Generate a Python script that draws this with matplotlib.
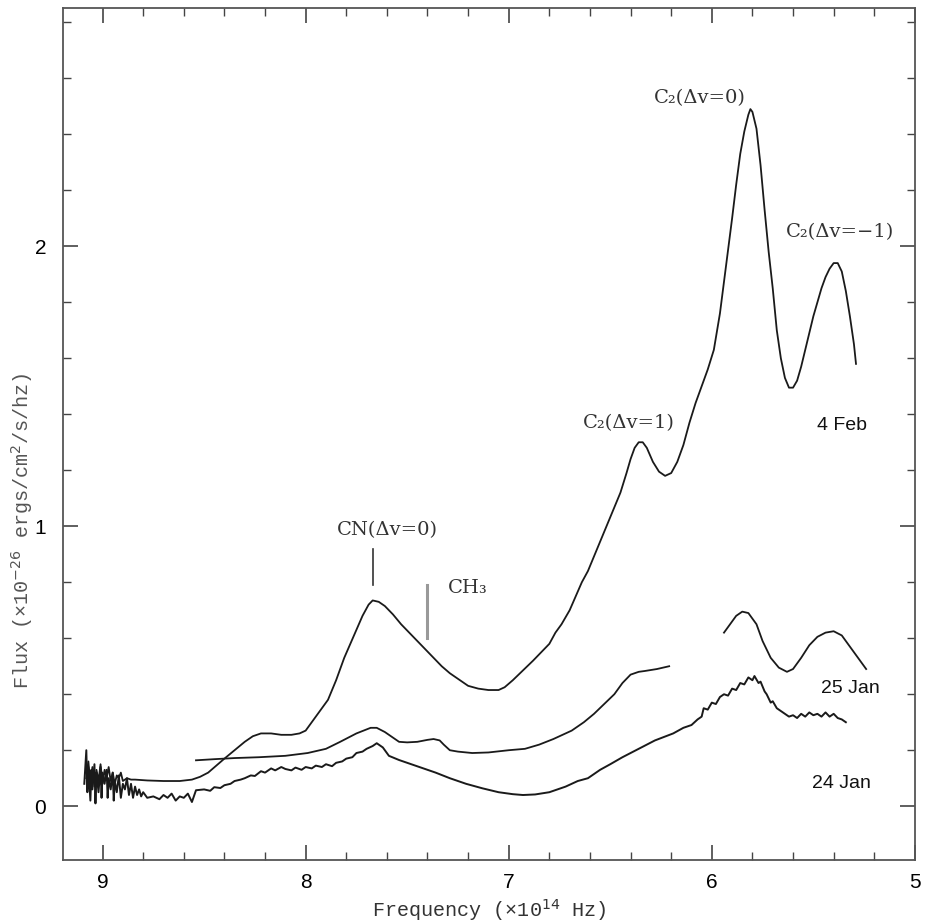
import matplotlib.pyplot as plt
from matplotlib.ticker import MultipleLocator

# 4 Feb spectrum (frequency in 1e14 Hz, flux)
feb4_freq = [9.08, 9.07, 9.06, 9.05, 9.04, 9.03, 9.02, 9.01, 9.00, 8.99, 8.98, 8.97,
             8.96, 8.95, 8.94, 8.93, 8.92, 8.91, 8.90, 8.88, 8.86, 8.84, 8.78, 8.70,
             8.62, 8.56, 8.52, 8.48, 8.44, 8.40, 8.35, 8.30, 8.26, 8.22, 8.17, 8.12,
             8.07, 8.03, 8.00, 7.96, 7.93, 7.89, 7.85, 7.81, 7.78, 7.75, 7.72, 7.69,
             7.67, 7.64, 7.61, 7.57, 7.53, 7.49, 7.45, 7.41, 7.37, 7.33, 7.29, 7.25,
             7.20, 7.15, 7.10, 7.05, 7.02, 6.98, 6.93, 6.88, 6.84, 6.80, 6.77, 6.74,
             6.70, 6.67, 6.64, 6.61, 6.57, 6.53, 6.49, 6.45, 6.42, 6.40, 6.38, 6.36,
             6.34, 6.32, 6.29, 6.26, 6.23, 6.20, 6.17, 6.14, 6.11, 6.08, 6.05, 6.02,
             5.99, 5.96, 5.93, 5.90, 5.88, 5.86, 5.84, 5.82, 5.81, 5.80, 5.78, 5.76,
             5.74, 5.72, 5.70, 5.68, 5.66, 5.64, 5.62, 5.60, 5.58, 5.56, 5.54, 5.52,
             5.50, 5.48, 5.46, 5.44, 5.42, 5.40, 5.38, 5.36, 5.34, 5.32, 5.30, 5.29]
feb4_flux = [0.10, 0.16, 0.08, 0.14, 0.07, 0.13, 0.09, 0.15, 0.08, 0.13, 0.10, 0.14,
             0.09, 0.12, 0.08, 0.11, 0.10, 0.12, 0.09, 0.10, 0.095, 0.095, 0.092, 0.09,
             0.09, 0.095, 0.105, 0.12, 0.145, 0.17, 0.20, 0.23, 0.25, 0.26, 0.26, 0.255,
             0.255, 0.26, 0.27, 0.31, 0.34, 0.38, 0.45, 0.53, 0.58, 0.63, 0.68, 0.72,
             0.735, 0.73, 0.715, 0.685, 0.65, 0.62, 0.59, 0.56, 0.53, 0.50, 0.475, 0.455,
             0.43, 0.42, 0.415, 0.415, 0.425, 0.45, 0.485, 0.52, 0.55, 0.58, 0.62, 0.65,
             0.70, 0.75, 0.80, 0.84, 0.91, 0.98, 1.05, 1.12, 1.19, 1.24, 1.28, 1.30,
             1.30, 1.28, 1.23, 1.195, 1.18, 1.19, 1.23, 1.29, 1.37, 1.44, 1.50, 1.56,
             1.63, 1.76, 1.93, 2.10, 2.22, 2.33, 2.41, 2.47, 2.49, 2.48, 2.42, 2.29,
             2.13, 1.98, 1.85, 1.70, 1.60, 1.53, 1.495, 1.495, 1.52, 1.57, 1.63, 1.69,
             1.75, 1.80, 1.85, 1.89, 1.92, 1.94, 1.94, 1.91, 1.84, 1.75, 1.65, 1.58]

# 25 Jan spectrum, two separate pieces
jan25a_freq = [8.54, 8.45, 8.35, 8.23, 8.10, 7.99, 7.90, 7.83, 7.75, 7.68, 7.65, 7.61,
               7.57, 7.54, 7.50, 7.45, 7.40, 7.37, 7.34, 7.32, 7.29, 7.25, 7.18, 7.10,
               7.00, 6.92, 6.85, 6.78, 6.69, 6.63, 6.58, 6.53, 6.48, 6.44, 6.40, 6.36,
               6.33, 6.27, 6.21]
jan25a_flux = [0.164, 0.168, 0.172, 0.175, 0.18, 0.19, 0.205, 0.23, 0.26, 0.28, 0.28, 0.265,
               0.245, 0.23, 0.228, 0.23, 0.237, 0.24, 0.235, 0.22, 0.20, 0.195, 0.19, 0.192,
               0.20, 0.205, 0.22, 0.24, 0.27, 0.30, 0.33, 0.365, 0.40, 0.44, 0.47, 0.48,
               0.483, 0.49, 0.50]
jan25b_freq = [5.94, 5.91, 5.88, 5.85, 5.82, 5.78, 5.75, 5.71, 5.67, 5.63, 5.60, 5.56,
               5.52, 5.48, 5.44, 5.40, 5.36, 5.32, 5.28, 5.24]
jan25b_flux = [0.62, 0.65, 0.68, 0.695, 0.69, 0.65, 0.59, 0.53, 0.495, 0.48, 0.49, 0.53,
               0.575, 0.605, 0.62, 0.625, 0.61, 0.57, 0.53, 0.49]

# 24 Jan spectrum (noisy)
jan24_freq = [9.09, 9.08, 9.075, 9.07, 9.06, 9.055, 9.05, 9.04, 9.035, 9.03, 9.02, 9.01,
              9.005, 9.00, 8.99, 8.98, 8.975, 8.97, 8.96, 8.95, 8.945, 8.94, 8.93, 8.92,
              8.91, 8.90, 8.89, 8.88, 8.87, 8.86, 8.85, 8.84, 8.83, 8.82, 8.81, 8.80,
              8.78, 8.75, 8.72, 8.70, 8.68, 8.66, 8.64, 8.62, 8.60, 8.58, 8.56, 8.54,
              8.50, 8.47, 8.45, 8.42, 8.40, 8.37, 8.35, 8.32, 8.30, 8.27, 8.25, 8.22,
              8.20, 8.17, 8.15, 8.12, 8.10, 8.07, 8.05, 8.02, 8.00, 7.97, 7.95, 7.92,
              7.90, 7.87, 7.85, 7.82, 7.80, 7.77, 7.75, 7.72, 7.70, 7.67, 7.65, 7.62,
              7.59, 7.54, 7.48, 7.42, 7.36, 7.29, 7.21, 7.13, 7.05, 6.98, 6.93, 6.87,
              6.80, 6.72, 6.66, 6.61, 6.55, 6.50, 6.44, 6.36, 6.28, 6.19, 6.14, 6.10,
              6.07, 6.05, 6.04, 6.02, 6.00, 5.98, 5.96, 5.94, 5.92, 5.90, 5.88, 5.86,
              5.84, 5.82, 5.80, 5.79, 5.77, 5.76, 5.74, 5.73, 5.71, 5.70, 5.68, 5.66,
              5.64, 5.62, 5.60, 5.58, 5.56, 5.54, 5.52, 5.50, 5.48, 5.46, 5.44, 5.42,
              5.40, 5.38, 5.36, 5.34]
jan24_flux = [0.08, 0.20, 0.05, 0.14, 0.02, 0.13, 0.06, 0.15, 0.01, 0.12, 0.05, 0.14,
              0.03, 0.12, 0.08, 0.13, 0.03, 0.10, 0.06, 0.12, 0.02, 0.09, 0.05, 0.11,
              0.03, 0.08, 0.06, 0.10, 0.04, 0.08, 0.03, 0.07, 0.04, 0.06, 0.035, 0.05,
              0.03, 0.035, 0.025, 0.04, 0.03, 0.045, 0.02, 0.035, 0.03, 0.045, 0.015, 0.057,
              0.06, 0.055, 0.068, 0.065, 0.075, 0.08, 0.09, 0.095, 0.10, 0.11, 0.108, 0.125,
              0.12, 0.135, 0.128, 0.14, 0.133, 0.128, 0.138, 0.13, 0.14, 0.135, 0.145, 0.14,
              0.15, 0.143, 0.155, 0.16, 0.17, 0.175, 0.19, 0.195, 0.205, 0.215, 0.225, 0.21,
              0.18, 0.165, 0.15, 0.135, 0.12, 0.10, 0.08, 0.064, 0.05, 0.043, 0.04, 0.042,
              0.05, 0.07, 0.09, 0.10, 0.13, 0.15, 0.175, 0.205, 0.235, 0.26, 0.28, 0.29,
              0.31, 0.32, 0.35, 0.345, 0.37, 0.365, 0.39, 0.40, 0.395, 0.42, 0.415, 0.44,
              0.435, 0.46, 0.45, 0.465, 0.44, 0.445, 0.41, 0.40, 0.37, 0.375, 0.35, 0.34,
              0.33, 0.32, 0.325, 0.315, 0.33, 0.32, 0.335, 0.325, 0.33, 0.32, 0.335, 0.32,
              0.33, 0.315, 0.31, 0.30]

date_labels = ["4 Feb", "25 Jan", "24 Jan"]
date_pos = [(5.36, 1.36), (5.32, 0.42), (5.36, 0.08)]

band_labels = ["CN(Δv=0)", "CH₃", "C₂(Δv=1)", "C₂(Δv=0)", "C₂(Δv=−1)"]
band_pos = [(7.60, 0.985), (7.30, 0.78), (6.41, 1.37), (6.06, 2.53), (5.37, 2.05)]

fig = plt.figure(figsize=(9.26, 9.24), dpi=100)
ax = fig.add_axes([0.068, 0.069, 0.920, 0.922])

ink = "#1a1a1a"
ax.plot(feb4_freq, feb4_flux, color=ink, lw=1.3)
ax.plot(jan25a_freq, jan25a_flux, color=ink, lw=1.3)
ax.plot(jan25b_freq, jan25b_flux, color=ink, lw=1.3)
ax.plot(jan24_freq, jan24_flux, color=ink, lw=1.4)

# band markers
ax.plot([7.67, 7.67], [0.79, 0.92], color="#333333", lw=1.2)
ax.plot([7.40, 7.40], [0.60, 0.79], color="#999999", lw=2.2)

for txt, (x, y) in zip(band_labels, band_pos):
    ha = "left" if txt == "CH₃" else "center"
    ax.text(x, y, txt, ha=ha, va="center", fontsize=14,
            family=["DejaVu Serif"], color="#333333")

for txt, (x, y) in zip(date_labels, date_pos):
    ax.text(x, y, txt, ha="center", va="center", fontsize=14,
            family=["Liberation Sans", "DejaVu Sans"], color="#111111")

ax.set_xlim(9.195, 5.0)
ax.set_ylim(-0.193, 2.85)
ax.xaxis.set_major_locator(MultipleLocator(1))
ax.xaxis.set_minor_locator(MultipleLocator(0.2))
ax.yaxis.set_major_locator(MultipleLocator(1))
ax.yaxis.set_minor_locator(MultipleLocator(0.2))
ax.tick_params(which="both", direction="in", top=True, right=True, color="#444444")
ax.tick_params(which="major", length=11, width=1.2, pad=9, labelsize=15)
ax.tick_params(which="minor", length=6, width=1.0)
ax.tick_params(axis="y", which="major", pad=12)
for lab in ax.get_xticklabels() + ax.get_yticklabels():
    lab.set_family(["Liberation Sans", "DejaVu Sans"])
for sp in ax.spines.values():
    sp.set_color("#555555")
    sp.set_linewidth(1.3)

ax.set_xlabel("Frequency (×10$^{14}$ Hz)", fontsize=14.5,
              family=["Liberation Mono", "DejaVu Sans Mono"], color="#333333", labelpad=4)
ax.text(-0.048, 0.387, "Flux (×10$^{-26}$ ergs/cm$^{2}$/s/hz)", transform=ax.transAxes,
        rotation=90, ha="center", va="center", fontsize=14.5,
        family=["Liberation Mono", "DejaVu Sans Mono"], color="#555555")

fig.savefig("out.png", dpi=100)
